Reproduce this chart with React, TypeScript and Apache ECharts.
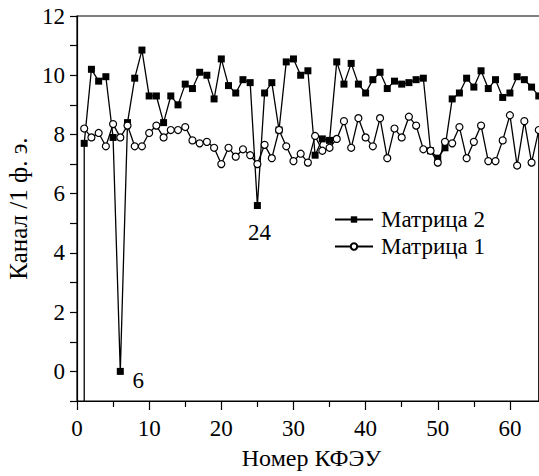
import React, { useEffect, useRef } from "react";
import * as echarts from "echarts";

// Номер КФЭУ (1..64)
const channels: number[] = Array.from({ length: 64 }, (_, i) => i + 1);

// Матрица 2 (filled squares)
const matrix2: number[] = [
  7.7, 10.2, 9.8, 9.95, 7.9, 0, 8.4, 9.9, 10.85, 9.3,
  9.3, 8.4, 9.3, 9.0, 9.7, 9.55, 10.1, 10.0, 9.2, 10.55,
  9.65, 9.4, 9.85, 9.75, 5.6, 9.4, 9.75, 8.15, 10.45, 10.55,
  10.0, 10.15, 7.3, 7.85, 7.8, 10.45, 9.7, 10.4, 9.7, 9.4,
  9.85, 10.1, 9.55, 9.8, 9.7, 9.75, 9.85, 9.9, 7.45, 7.2,
  7.55, 9.2, 9.4, 9.9, 9.6, 10.15, 9.55, 9.85, 9.25, 9.4,
  9.95, 9.85, 9.6, 9.3,
];

// Матрица 1 (open circles)
const matrix1: number[] = [
  8.2, 7.9, 8.05, 7.6, 8.35, 7.9, 8.3, 7.6, 7.6, 8.05,
  8.3, 7.9, 8.15, 8.15, 8.25, 7.8, 7.7, 7.75, 7.55, 7.0,
  7.55, 7.25, 7.5, 7.3, 7.0, 7.65, 7.2, 8.15, 7.6, 7.1,
  7.35, 7.05, 7.95, 7.45, 7.55, 7.85, 8.45, 7.55, 8.55, 7.9,
  7.6, 8.55, 7.2, 8.2, 7.9, 8.6, 8.3, 7.5, 7.45, 7.05,
  7.75, 7.7, 8.25, 7.2, 7.75, 8.3, 7.1, 7.1, 7.8, 8.65,
  6.95, 8.45, 7.05, 8.15,
];

// annotated points of Матрица 2
const annotations: { x: number; text: string; offset: [number, number] }[] = [
  { x: 6, text: "6", offset: [18, 9] },
  { x: 25, text: "24", offset: [2, 27] },
];

const Y_BOTTOM = -1;
const FONT = "Liberation Serif";
const FS = 23;

export default function App() {
  const ref = useRef<HTMLDivElement>(null);

  useEffect(() => {
    if (!ref.current) return;
    const chart = echarts.init(ref.current, undefined, { renderer: "svg" });

    const m2Data: any[] = [
      { value: [channels[0], Y_BOTTOM], symbol: "none" },
      ...channels.map((c, i) => {
        const ann = annotations.find((a) => a.x === c);
        if (!ann) return [c, matrix2[i]];
        return {
          value: [c, matrix2[i]],
          label: {
            show: true,
            position: "inside",
            offset: ann.offset,
            formatter: ann.text,
            color: "#000",
            fontFamily: FONT,
            fontSize: FS,
          },
        };
      }),
    ];
    const m1Data: any[] = [
      ...channels.map((c, i) => [c, matrix1[i]]),
      { value: [channels[channels.length - 1], Y_BOTTOM], symbol: "none" },
    ];

    chart.setOption({
      animation: false,
      backgroundColor: "#fff",
      textStyle: { fontFamily: FONT, color: "#000" },
      grid: {
        left: 77,
        top: 16,
        right: 0,
        bottom: 75,
        containLabel: false,
        outerBoundsMode: "none",
        show: true,
        borderColor: "#000",
        borderWidth: 1.2,
        backgroundColor: "transparent",
      },
      legend: {
        orient: "vertical",
        left: 329,
        top: 203,
        itemWidth: 38,
        itemHeight: 8,
        itemGap: 4,
        textStyle: {
          fontFamily: FONT,
          fontSize: 23,
          color: "#000",
          padding: [0, 0, 0, 3],
        },
        data: ["Матрица 2", "Матрица 1"],
      },
      xAxis: {
        type: "value",
        min: 0,
        max: 65,
        interval: 10,
        name: "Номер КФЭУ",
        nameLocation: "middle",
        nameGap: 45,
        nameTextStyle: {
          fontFamily: FONT,
          fontSize: 24,
          color: "#000",
        },
        axisLine: { onZero: false, lineStyle: { color: "#000", width: 1.2 } },
        axisTick: { show: true, length: 9, lineStyle: { color: "#000", width: 1.2 } },
        minorTick: { show: true, splitNumber: 2, length: 6, lineStyle: { color: "#000", width: 1.2 } },
        axisLabel: {
          margin: 16,
          fontFamily: FONT,
          fontSize: FS,
          color: "#000",
          formatter: (v: number) => (v % 10 === 0 ? String(v) : ""),
        },
        splitLine: { show: false },
      },
      yAxis: {
        type: "value",
        min: -1,
        max: 12,
        interval: 1,
        name: "Канал /1 ф. э.",
        nameLocation: "middle",
        nameGap: 42,
        nameRotate: 90,
        nameTextStyle: { fontFamily: FONT, fontSize: 25, color: "#000" },
        axisLine: { onZero: false, lineStyle: { color: "#000", width: 1.2 } },
        axisTick: { show: true, length: 7, lineStyle: { color: "#000", width: 1.2 } },
        axisLabel: {
          margin: 12,
          fontFamily: FONT,
          fontSize: FS,
          color: "#000",
          formatter: (v: number) => (v >= 0 && v % 2 === 0 ? String(v) : ""),
        },
        splitLine: { show: false },
      },
      series: [
        {
          name: "Матрица 2",
          type: "line",
          data: m2Data,
          symbol: "rect",
          symbolSize: 7,
          showAllSymbol: true,
          lineStyle: { color: "#000", width: 1.3 },
          itemStyle: { color: "#000", borderColor: "#000", borderWidth: 0 },
          z: 2,
        },
        {
          name: "Матрица 1",
          type: "line",
          data: m1Data,
          symbol: "circle",
          symbolSize: 7,
          showAllSymbol: true,
          lineStyle: { color: "#000", width: 1.3 },
          itemStyle: { color: "#fff", borderColor: "#000", borderWidth: 1.2 },
          z: 3,
        },
      ],
    });

    return () => chart.dispose();
  }, []);

  return (
    <div
      style={{
        position: "absolute",
        left: 0,
        top: 0,
        width: 539,
        height: 476,
        overflow: "hidden",
      }}
    >
      <div ref={ref} style={{ width: 546, height: 476 }} />
    </div>
  );
}
